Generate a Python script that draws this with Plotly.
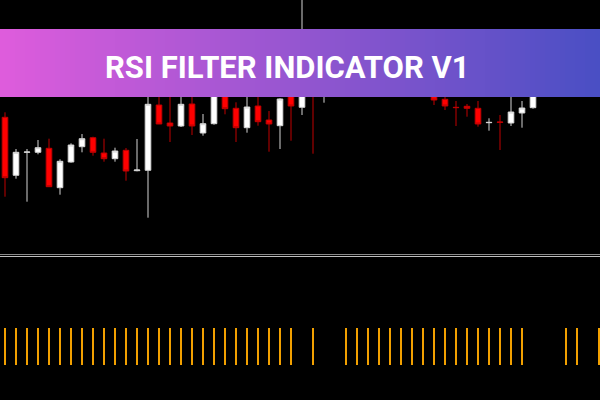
import plotly.graph_objects as go

# ---- data ----
bar_index = list(range(55))
open_ = [132.7, 74.7, 97.7, 97.7, 101.7, 62.3, 88.0, 103.3, 112.3, 97.0,
         91.3, 99.7, 79.3, 79.7, 145.0, 127.0, 124.0, 146.0, 117.0, 126.3,
         158.0, 141.7, 122.3, 144.0, 130.0, 124.3, 165.0, 142.7, 200.0, 175.0,
         190.0, 200.0, 196.0, 205.0, 198.0, 192.0, 186.0, 190.0, 180.0, 158.0,
         150.7, 142.7, 143.7, 141.7, 127.3, 128.0, 127.0, 137.0, 142.3, 162.0,
         175.0, 170.0, 182.0, 190.0, 185.0]
high = [137.7, 101.0, 101.0, 110.0, 111.3, 90.7, 106.7, 116.0, 113.3, 111.3,
        102.3, 102.0, 111.0, 162.0, 157.0, 158.0, 160.0, 160.0, 136.0, 170.0,
        165.0, 147.7, 160.0, 162.0, 139.0, 151.7, 175.0, 262.0, 210.0, 215.0,
        208.0, 212.0, 214.0, 210.0, 203.0, 198.0, 196.0, 194.0, 185.0, 162.0,
        157.0, 149.0, 146.0, 149.0, 131.7, 135.0, 160.0, 149.0, 165.0, 180.0,
        182.0, 188.0, 196.0, 198.0, 200.0]
low = [53.3, 71.3, 48.3, 95.7, 63.3, 55.3, 87.3, 97.7, 94.3, 88.3,
       88.3, 69.3, 78.7, 32.3, 126.0, 108.0, 123.0, 115.0, 114.3, 125.3,
       135.7, 108.0, 117.3, 124.3, 98.3, 101.0, 109.3, 135.0, 96.3, 147.3,
       185.0, 190.0, 192.0, 193.0, 186.0, 180.0, 178.0, 172.0, 163.0, 145.0,
       140.0, 124.0, 133.3, 123.3, 119.3, 100.0, 124.0, 122.3, 141.3, 158.0,
       165.0, 166.0, 178.0, 180.0, 182.0]
close = [72.3, 97.7, 98.0, 102.3, 63.3, 88.7, 105.0, 111.3, 97.7, 91.3,
         99.0, 79.0, 80.0, 145.7, 126.0, 124.0, 145.7, 124.0, 126.3, 165.0,
         141.3, 122.3, 143.0, 128.3, 126.0, 151.0, 144.0, 190.0, 170.0, 195.0,
         200.0, 196.0, 205.0, 198.0, 192.0, 186.0, 190.0, 180.0, 168.0, 150.0,
         144.0, 142.4, 141.7, 126.0, 127.6, 127.7, 138.0, 142.0, 162.0, 175.0,
         170.0, 182.0, 190.0, 185.0, 195.0]
rsi_filter_signal = [1] * 27 + [0, 1, 0, 0] + [1] * 17 + [0, 0, 0, 1, 1, 0, 1]

title_text = "RSI FILTER INDICATOR V1"

# ---- figure ----
fig = go.Figure()

fig.add_trace(go.Candlestick(
    x=bar_index, open=open_, high=high, low=low, close=close,
    increasing=dict(line=dict(color="#d4d4d4", width=1), fillcolor="#ffffff"),
    decreasing=dict(line=dict(color="#c00000", width=1), fillcolor="#ff0000"),
    whiskerwidth=0, xaxis="x", yaxis="y", hoverinfo="skip", showlegend=False,
))

fig.add_trace(go.Bar(
    x=bar_index, y=rsi_filter_signal, width=0.2,
    marker=dict(color="#f2a000", line=dict(width=0)),
    xaxis="x", yaxis="y2", hoverinfo="skip", showlegend=False,
))

shapes = []
# separator double line
shapes.append(dict(type="line", xref="paper", yref="paper", x0=0, x1=1,
                   y0=1 - 254.5 / 400, y1=1 - 254.5 / 400,
                   line=dict(color="#8a8a8a", width=1), layer="below"))
shapes.append(dict(type="line", xref="paper", yref="paper", x0=0, x1=1,
                   y0=1 - 256.5 / 400, y1=1 - 256.5 / 400,
                   line=dict(color="#bdbdbd", width=1), layer="below"))

# gradient banner
c0 = (222, 92, 220)
c1 = (74, 79, 196)
n = 120
for i in range(n):
    t = i / (n - 1)
    col = tuple(round(c0[k] + (c1[k] - c0[k]) * t) for k in range(3))
    shapes.append(dict(type="rect", xref="paper", yref="paper",
                       x0=i / n, x1=(i + 1) / n + 0.002,
                       y0=1 - 97 / 400, y1=1 - 29 / 400,
                       fillcolor="rgb(%d,%d,%d)" % col, line=dict(width=0),
                       layer="above"))

fig.update_layout(
    width=600, height=400,
    margin=dict(l=0, r=0, t=0, b=0),
    paper_bgcolor="#000000", plot_bgcolor="#000000",
    boxgap=0.27, bargap=0,
    xaxis=dict(range=[-5 / 11, 595 / 11], visible=False,
               rangeslider=dict(visible=False), fixedrange=True),
    yaxis=dict(domain=[0.375, 1], range=[0, 250], visible=False, fixedrange=True),
    yaxis2=dict(domain=[0, 0.35], range=[-35 / 37, 105 / 37], visible=False,
                fixedrange=True),
    shapes=shapes,
    annotations=[dict(
        text="<b>" + title_text + "</b>", xref="paper", yref="paper",
        x=287 / 600, y=1 - 67 / 400, xanchor="center", yanchor="middle",
        showarrow=False,
        font=dict(family="Roboto, Open Sans, sans-serif", size=31, color="#ffffff"),
    )],
    showlegend=False,
    hovermode=False,
)

fig.write_html(
    "out.html",
    config={"displayModeBar": False, "staticPlot": True},
    post_script="document.body.style.margin='0';document.body.style.padding='0';"
                "document.body.style.background='#000';",
)
